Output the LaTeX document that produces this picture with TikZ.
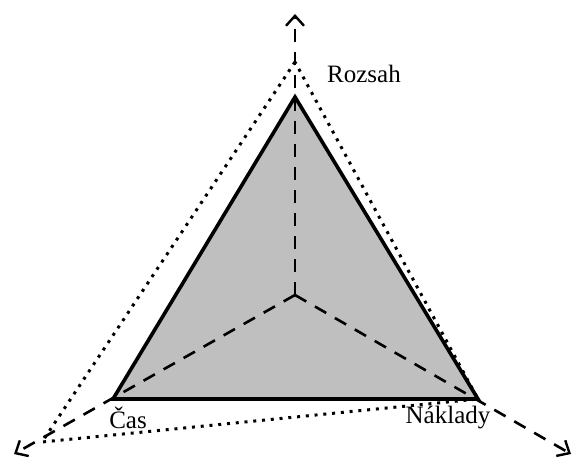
\documentclass[tikz,border=0pt]{standalone}
\usepackage{fontspec}
\setmainfont{Liberation Serif}
\usepackage{tikz}
\usetikzlibrary{arrows.meta}
\definecolor{areagray}{rgb}{0.75,0.75,0.75}

\begin{document}
\begin{tikzpicture}[
  x=1pt, y=-1pt,
  axis/.style={dash pattern=on 13pt off 10pt, line width=2.6pt,
               -{Straight Barb[length=10pt, width=18pt, line width=2.4pt]}},
  tri/.style={line width=3.6pt, line join=miter, fill=areagray},
  outer/.style={dash pattern=on 3pt off 5.8pt, line width=3pt},
  lab/.style={font=\fontsize{25}{29}\selectfont, inner sep=0pt},
]
\useasboundingbox (0,0) rectangle (573,458);
% corners
\coordinate (c) at (295,295);
\coordinate (tip r) at (295,14);
\coordinate (tip c) at (14,454);
\coordinate (tip n) at (571,454);
\coordinate (rozsah) at (295,97);
\coordinate (cas) at (113,399);
\coordinate (naklady) at (478,399);
\coordinate (o rozsah) at (295,62);
\coordinate (o cas) at (42,442);
\coordinate (o naklady) at (478,399);
% shaded triangle
\draw[tri] (rozsah) -- (cas) -- (naklady) -- cycle;
% outer triangle
\draw[outer] (o rozsah) -- (o cas) -- (o naklady) -- cycle;
% axes
\draw[axis] (c) -- (tip r);
\draw[axis] (c) -- (tip c);
\draw[axis] (c) -- (tip n);
% labels
\node[lab, anchor=west] (lrozsah) at (327,74) {Rozsah};
\node[lab] (lcas) at (128,418) {Čas};
\node[lab] (lnaklady) at (448,418) {Náklady};
\end{tikzpicture}
\end{document}
